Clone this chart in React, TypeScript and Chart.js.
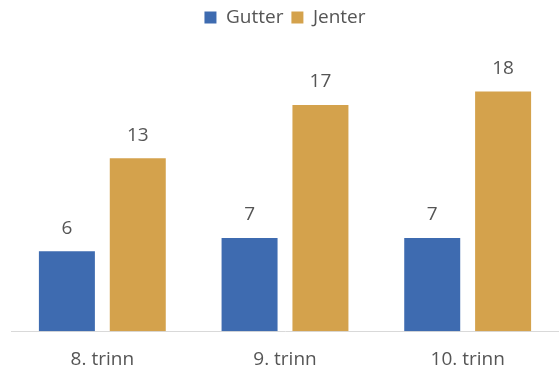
import React, { useEffect, useRef } from "react";
import { Chart, registerables } from "chart.js";

Chart.register(...registerables);

const categories = ["8. trinn", "9. trinn", "10. trinn"];
const gutter = [6, 7, 7];
const jenter = [13, 17, 18];
const seriesNames = ["Gutter", "Jenter"];
const yMax = 22.1;

const FONT = "'Open Sans', sans-serif";
const TEXT = "#555555";
const CANVAS_H = 388;

const valueLabels = {
  id: "valueLabels",
  afterDatasetsDraw(chart: any) {
    const ctx = chart.ctx;
    ctx.save();
    ctx.font = `19px ${FONT}`;
    ctx.fillStyle = TEXT;
    ctx.textAlign = "center";
    ctx.textBaseline = "middle";
    chart.data.datasets.forEach((ds: any, di: number) => {
      const meta = chart.getDatasetMeta(di);
      meta.data.forEach((bar: any, i: number) => {
        ctx.fillText(String(ds.data[i]), bar.x, bar.y - 23);
      });
    });
    ctx.restore();
  },
};

export default function App() {
  const ref = useRef<HTMLCanvasElement>(null);
  useEffect(() => {
    if (!ref.current) return;
    const chart = new Chart(ref.current, {
      type: "bar",
      data: {
        labels: categories,
        datasets: [
          { label: seriesNames[0], data: gutter, backgroundColor: "#3e6bb0" },
          { label: seriesNames[1], data: jenter, backgroundColor: "#d4a24c" },
        ],
      },
      options: {
        animation: false,
        responsive: false,
        maintainAspectRatio: false,
        layout: { padding: { left: 11, right: 0, top: 0, bottom: 0 } },
        datasets: {
          bar: { categoryPercentage: 0.776, barPercentage: 0.79 },
        },
        plugins: {
          legend: {
            position: "top",
            labels: {
              boxWidth: 12,
              boxHeight: 12,
              padding: 8,
              color: TEXT,
              font: { family: FONT, size: 19 },
            },
          },
          tooltip: { enabled: false },
        },
        scales: {
          x: {
            grid: { display: false, drawTicks: false, tickLength: 0 },
            border: { display: true, color: "#d9d9d9", width: 1 },
            ticks: { color: TEXT, font: { family: FONT, size: 19 }, padding: 17 },
          },
          y: {
            display: false,
            min: 0,
            max: yMax,
          },
        },
      },
      plugins: [valueLabels],
    });
    return () => chart.destroy();
  }, []);
  return (
    <div style={{ position: "fixed", left: 0, top: 0, width: 559, height: 373, overflow: "hidden", background: "#fff" }}>
      <canvas ref={ref} width={559} height={CANVAS_H} style={{ width: 559, height: CANVAS_H, display: "block" }} />
    </div>
  );
}
